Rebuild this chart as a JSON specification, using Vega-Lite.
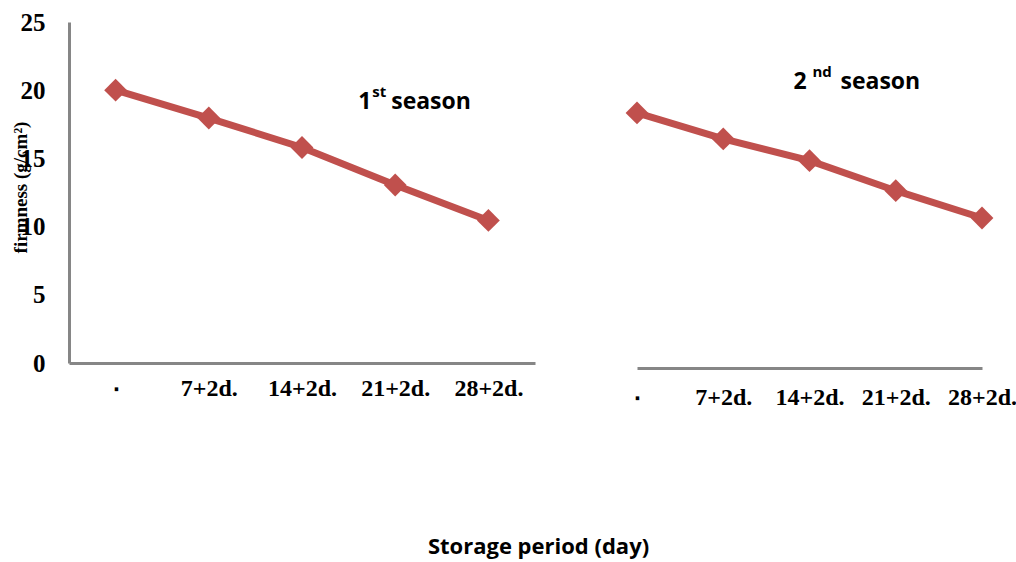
{
  "$schema": "https://vega.github.io/schema/vega-lite/v6.json",
  "padding": {"left": 11, "top": 10, "right": 0, "bottom": 4},
  "bounds": "flush",
  "spacing": 61,
  "background": "white",
  "config": {"view": {"stroke": null}},
  "datasets": {
    "s1": [
      {"period": "٠", "firmness": 20.0},
      {"period": "7+2d.", "firmness": 17.96},
      {"period": "14+2d.", "firmness": 15.8},
      {"period": "21+2d.", "firmness": 13.05},
      {"period": "28+2d.", "firmness": 10.45}
    ],
    "s2": [
      {"period": "٠", "firmness": 18.7},
      {"period": "7+2d.", "firmness": 16.8},
      {"period": "14+2d.", "firmness": 15.2},
      {"period": "21+2d.", "firmness": 13.0},
      {"period": "28+2d.", "firmness": 11.0}
    ],
    "a1": [{"period": "21+2d.", "firmness": 19.13, "n": "1", "sup": "st", "word": "season"}],
    "a2": [{"period": "14+2d.", "firmness": 20.97, "n": "2", "sup": "nd", "word": "season"}]
  },
  "hconcat": [
    {
      "width": 466,
      "height": 341,
      "encoding": {
        "x": {
          "field": "period", "type": "ordinal",
          "scale": {"type": "point", "padding": 0.5, "domain": ["٠", "7+2d.", "14+2d.", "21+2d.", "28+2d."]},
          "axis": {
            "title": "Storage period (day)",
            "titleFont": "Open Sans", "titleFontSize": 22, "titleFontWeight": "bold", "titleColor": "black",
            "titleX": 469, "titleY": 183, "titleAlign": "center", "titleBaseline": "middle", "titleAnchor": null,
            "labelAngle": 0, "ticks": false, "grid": false,
            "domainColor": "#868686", "domainWidth": 3,
            "labelFont": "Liberation Serif", "labelFontSize": 24, "labelFontWeight": "bold", "labelColor": "black",
            "labelPadding": 25, "labelBaseline": "middle"
          }
        },
        "y": {
          "field": "firmness", "type": "quantitative",
          "scale": {"domain": [0, 25], "nice": false, "zero": true},
          "axis": {
            "values": [0, 5, 10, 15, 20, 25], "grid": false, "ticks": false,
            "domainColor": "#868686", "domainWidth": 3,
            "labelFont": "Liberation Serif", "labelFontSize": 25, "labelFontWeight": "bold", "labelColor": "black",
            "labelPadding": 24, "labelFlush": false,
            "title": "firmness (g/cm²)", "titleFont": "Liberation Serif", "titleFontSize": 19, "titleFontWeight": "bold", "titleColor": "black",
            "titleX": -49, "titleY": 165, "titleAngle": -90, "titleAlign": "center", "titleBaseline": "middle"
          }
        }
      },
      "layer": [
        {"data": {"name": "s1"}, "mark": {"type": "line", "color": "#C0504D", "strokeWidth": 7}, "encoding": {}},
        {"data": {"name": "s1"}, "mark": {"type": "point", "shape": "diamond", "size": 520, "filled": true, "color": "#C0504D", "opacity": 1}, "encoding": {}},
        {"data": {"name": "a1"}, "mark": {"type": "text", "font": "Open Sans", "fontWeight": "bold", "fontSize": 23, "align": "left", "baseline": "middle", "dx": -37, "color": "black"}, "encoding": {"text": {"field": "n"}}},
        {"data": {"name": "a1"}, "mark": {"type": "text", "font": "Open Sans", "fontWeight": "bold", "fontSize": 15, "align": "left", "baseline": "middle", "dx": -23, "dy": -10, "color": "black"}, "encoding": {"text": {"field": "sup"}}},
        {"data": {"name": "a1"}, "mark": {"type": "text", "font": "Open Sans", "fontWeight": "bold", "fontSize": 23, "align": "left", "baseline": "middle", "dx": -4, "color": "black"}, "encoding": {"text": {"field": "word"}}}
      ]
    },
    {
      "width": 420,
      "height": 346,
      "encoding": {
        "x": {
          "field": "period", "type": "ordinal",
          "scale": {"type": "point", "range": [41, 386], "padding": 0, "domain": ["٠", "7+2d.", "14+2d.", "21+2d.", "28+2d."]},
          "axis": {
            "title": null,
            "labelAngle": 0, "ticks": false, "grid": false,
            "domainColor": "#868686", "domainWidth": 3,
            "labelFont": "Liberation Serif", "labelFontSize": 24, "labelFontWeight": "bold", "labelColor": "black",
            "labelPadding": 29, "labelBaseline": "middle"
          }
        },
        "y": {
          "field": "firmness", "type": "quantitative",
          "scale": {"domain": [0, 25.37], "nice": false, "zero": true},
          "axis": null
        }
      },
      "layer": [
        {"data": {"name": "s2"}, "mark": {"type": "line", "color": "#C0504D", "strokeWidth": 7}, "encoding": {}},
        {"data": {"name": "s2"}, "mark": {"type": "point", "shape": "diamond", "size": 520, "filled": true, "color": "#C0504D", "opacity": 1}, "encoding": {}},
        {"data": {"name": "a2"}, "mark": {"type": "text", "font": "Open Sans", "fontWeight": "bold", "fontSize": 23, "align": "left", "baseline": "middle", "dx": -16, "color": "black"}, "encoding": {"text": {"field": "n"}}},
        {"data": {"name": "a2"}, "mark": {"type": "text", "font": "Open Sans", "fontWeight": "bold", "fontSize": 15, "align": "left", "baseline": "middle", "dx": 3, "dy": -10, "color": "black"}, "encoding": {"text": {"field": "sup"}}},
        {"data": {"name": "a2"}, "mark": {"type": "text", "font": "Open Sans", "fontWeight": "bold", "fontSize": 23, "align": "left", "baseline": "middle", "dx": 31, "color": "black"}, "encoding": {"text": {"field": "word"}}}
      ]
    }
  ]
}
